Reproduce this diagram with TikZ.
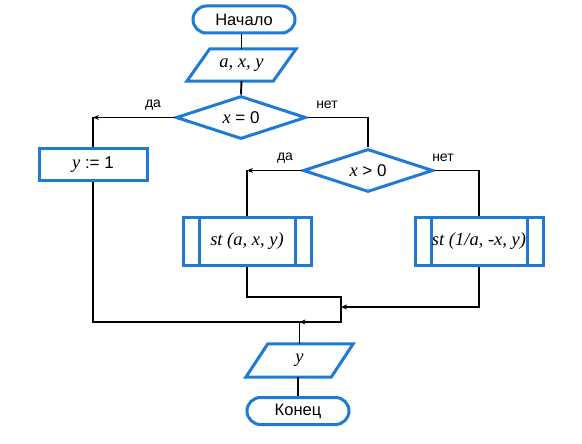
\documentclass[tikz,border=0pt]{standalone}
\usepackage{fontspec}
\setmainfont{Liberation Serif}
\newfontfamily\sansf{Liberation Sans}
\usetikzlibrary{arrows.meta,shapes.geometric}
\definecolor{fc}{RGB}{30,122,212}
\newcommand{\drawpara}[2]{\draw[paraline] ([xshift=#2]#1.north west) -- ([xshift=#2]#1.north east) -- ([xshift=-#2]#1.south east) -- ([xshift=-#2]#1.south west) -- cycle;}
\newcommand{\sansop}{\sansf\fontsize{17}{19}\selectfont}
\begin{document}
\begin{tikzpicture}[x=1pt,y=-1pt,
  base/.style={draw=fc, line width=3pt, inner sep=0pt, align=center},
  term/.style={base, rounded corners=13.5pt, minimum width=102pt, minimum height=27pt, font=\sansf\fontsize{16.5}{18}\selectfont},
  procbox/.style={base, minimum width=108pt, minimum height=32pt, font=\fontsize{18.5}{20}\selectfont},
  dec/.style={base, shape=diamond, aspect=3, minimum width=130pt, minimum height=43pt, font=\fontsize{18.5}{20}\selectfont},
  sub/.style={base, minimum width=128pt, minimum height=48pt, font=\itshape\fontsize{18.5}{20}\selectfont,
    path picture={\draw[fc, line width=3pt]
      ([xshift=16pt]path picture bounding box.north west) -- ([xshift=16pt]path picture bounding box.south west)
      ([xshift=-16pt]path picture bounding box.north east) -- ([xshift=-16pt]path picture bounding box.south east);}},
  para/.style={inner sep=0pt, minimum width=86pt, minimum height=32pt, font=\itshape\fontsize{18.5}{20}\selectfont},
  paraline/.style={draw=fc, line width=3pt, line join=miter},
  conn/.style={line width=1.9pt, black},
  arr/.style={conn, -{Stealth[length=6pt,width=5pt]}},
  lbl/.style={font=\sansf\fontsize{14}{16}\selectfont, inner sep=0pt}
]
\useasboundingbox (0,0) rectangle (582,444);

\node[term] (start) at (244,19.5) {Начало};
\node[para] (in) at (241.5,65) {a, x, y};
\drawpara{in}{11.5pt}
\node[dec] (d1) at (241,117.5) {\textit{x} {\sansop = 0}};
\node[procbox] (b1) at (93,165) {\textit{y} {\sansop := 1}};
\node[dec] (d2) at (368,170.5) {\textit{x} {\sansop > 0}};
\node[sub] (s1) at (247,241) {st (a, x, y)};
\node[sub] (s2) at (479,241.5) {st (1/a, -x, y)};
\node[para, minimum width=85pt, minimum height=33pt] (out) at (299.5,360.5) {y};
\drawpara{out}{11pt}
\node[term] (stop) at (298,411) {Конец};

\node[lbl] (l1) at (153,105) {да};
\node[lbl] (l2) at (327,105) {нет};
\node[lbl] (l3) at (285,158) {да};
\node[lbl] (l4) at (443,158) {нет};

\coordinate (c1) at (b1.north |- d1.west);
\coordinate (c2) at (s1.north |- d2.west);
\coordinate (c3) at (s2.north |- d2.east);
\coordinate (c4) at (d2.north |- d1.east);
\coordinate (m1) at (341,297);
\coordinate (m2) at (341,307);
\coordinate (m3) at (341,322);
\coordinate (j) at (out.north |- m3);

\draw[conn] (in.north |- start.south) -- (in.north);
\draw[conn] (in.south) -- (d1.north);
\draw[arr] (d1.west) -- (c1);
\draw[conn] (c1) -- (b1.north);
\draw[conn] (d1.east) -- (c4) -- (d2.north);
\draw[arr] (d2.west) -- (c2);
\draw[conn] (c2) -- (s1.north);
\draw[conn] (d2.east) -- (c3) -- (s2.north);
\draw[conn] (s1.south) -- (s1.south |- m1) -- (m1) -- (m3) -- (j);
\draw[arr] (s2.south) -- (s2.south |- m2) -- (m2);
\draw[conn] (b1.south) -- (b1.south |- m3) -- (j);
\draw[arr] (m3) -- (j);
\draw[conn] (j) -- (out.north);
\draw[conn] (out.south -| stop.north) -- (stop.north);
\end{tikzpicture}
\end{document}
